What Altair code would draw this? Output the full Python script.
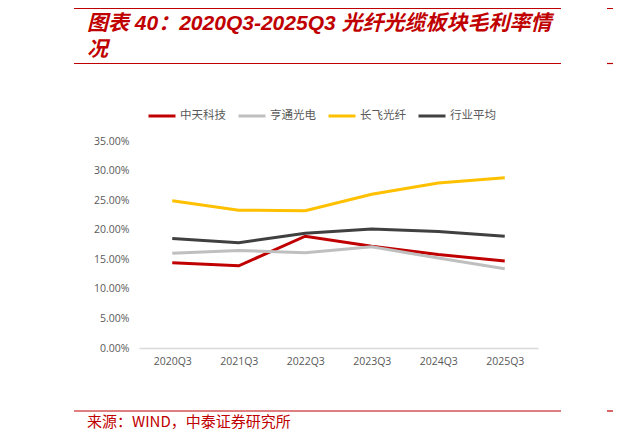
import altair as alt
import pandas as pd

quarters = ["2020Q3", "2021Q3", "2022Q3", "2023Q3", "2024Q3", "2025Q3"]
series_names = ["中天科技", "亨通光电", "长飞光纤", "行业平均"]
zhongtian = [0.144, 0.139, 0.189, 0.172, 0.158, 0.147]
hengtong = [0.160, 0.165, 0.161, 0.171, 0.152, 0.134]
changfei = [0.249, 0.233, 0.232, 0.260, 0.279, 0.288]
industry = [0.185, 0.178, 0.194, 0.201, 0.197, 0.189]
colors = ["#C00000", "#BFBFBF", "#FFC000", "#404040"]
y_ticks = [0.0, 0.05, 0.10, 0.15, 0.20, 0.25, 0.30, 0.35]

title_line1 = "图表 40：2020Q3-2025Q3 光纤光缆板块毛利率情"
title_line2 = "况"
source_text = "来源：WIND，中泰证券研究所"

rows = []
for name, vals in zip(series_names, [zhongtian, hengtong, changfei, industry]):
    for q, v in zip(quarters, vals):
        rows.append({"quarter": q, "series": name, "value": v})
df = pd.DataFrame(rows)

RED = "#C00000"
LABEL = "#595959"
CJK = "Noto Sans CJK SC"
TITLE_FONT = "Liberation Sans, Noto Sans CJK SC"

lines = alt.Chart(df).mark_line(strokeWidth=3).encode(
    x=alt.X("quarter:O", sort=quarters, scale=alt.Scale(padding=0.5),
            axis=alt.Axis(title=None, labelAngle=0, ticks=False, grid=False,
                          domainColor="#D9D9D9", domainWidth=1.5,
                          labelColor=LABEL, labelFontSize=10.5, labelFont="Open Sans",
                          labelPadding=8)),
    y=alt.Y("value:Q", scale=alt.Scale(domain=[0, 0.35], nice=False),
            axis=alt.Axis(title=None, values=y_ticks, format=".2%", domain=False,
                          ticks=False, grid=False, labelColor=LABEL,
                          labelFontSize=10.5, labelFont="Open Sans", labelPadding=10)),
    color=alt.Color("series:N", sort=series_names,
                    scale=alt.Scale(domain=series_names, range=colors),
                    legend=alt.Legend(title=None, orient="none", direction="horizontal",
                                      legendX=8, legendY=-40,
                                      symbolType="stroke", symbolSize=729,
                                      symbolStrokeWidth=3, labelOffset=3,
                                      columnPadding=6, labelFont=CJK,
                                      labelFontSize=11.5, labelColor=LABEL)),
    order=alt.Order("series:N"),
)

one = alt.Data(values=[{}])

def hrule(x1, x2, y, w):
    return alt.Chart(one).mark_rule(color=RED, strokeWidth=w).encode(
        x=alt.value(x1), x2=alt.value(x2), y=alt.value(y))

def label(text, x, y, size, bold=False, italic=False, font=CJK):
    kw = dict(text=text, align="left", baseline="middle", color=RED,
              fontSize=size, font=font)
    if bold:
        kw["fontWeight"] = "bold"
    if italic:
        kw["fontStyle"] = "italic"
    return alt.Chart(one).mark_text(**kw).encode(x=alt.value(x), y=alt.value(y))

deco = [
    hrule(-65, 422, -133.5, 3),
    hrule(468, 480, -133.5, 3),
    hrule(-65, 422, -77.5, 1.2),
    hrule(468, 480, -77.5, 1.2),
    hrule(-65, 422, 270, 1.2),
    hrule(468, 480, 270, 1.2),
    label(title_line1, -52, -117, 21, bold=True, italic=True, font=TITLE_FONT),
    label(title_line2, -52, -91, 21, bold=True, italic=True, font=TITLE_FONT),
    label(source_text, -52, 281, 15),
]

chart = alt.layer(lines, *deco).properties(
    width=399, height=207,
    autosize=alt.AutoSizeParams(type="none"),
    padding={"left": 131, "top": 133, "right": 75, "bottom": 86},
    background="white",
).configure_view(stroke=None)

chart.save("out.html", embed_options={"renderer": "svg", "actions": False})
